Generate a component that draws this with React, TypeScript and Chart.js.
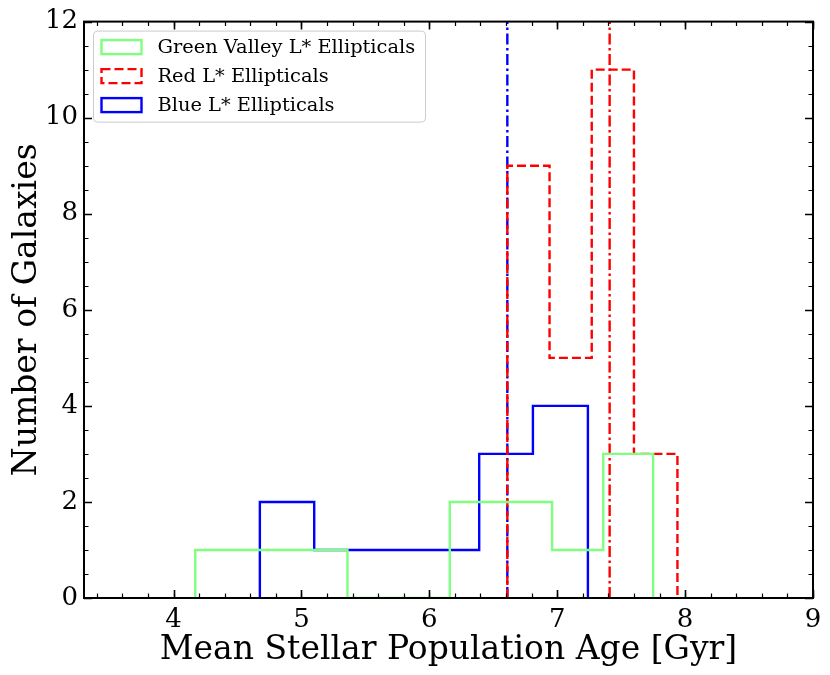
import React, { useEffect, useRef } from 'react';
import { Chart, registerables } from 'chart.js';

Chart.register(...registerables);

// ---- data ----
const greenEdges = [4.17, 4.57, 4.97, 5.36, 5.76, 6.16, 6.56, 6.96, 7.36, 7.75];
const greenCounts = [1, 1, 1, 0, 0, 2, 2, 1, 3];
const redEdges = [6.61, 6.94, 7.27, 7.6, 7.94];
const redCounts = [9, 5, 11, 3];
const blueEdges = [4.675, 5.1, 5.53, 5.96, 6.39, 6.81, 7.24];
const blueCounts = [2, 1, 1, 1, 3, 4];
const blueMean = 6.61;
const redMean = 7.41;
const xTickLabels = [4, 5, 6, 7, 8, 9];
const yTickLabels = [0, 2, 4, 6, 8, 10, 12];
const seriesNames = ['Green Valley L* Ellipticals', 'Red L* Ellipticals', 'Blue L* Ellipticals'];

const X_MIN = 3.3;
const X_MAX = 9;
const Y_MIN = 0;
const Y_MAX = 12;
const X_MINOR = 0.2;
const Y_MINOR = 0.5;

const FONT = "'DejaVu Serif', serif";
const GREEN = 'rgb(127,255,127)';
const RED = 'rgb(255,0,0)';
const BLUE = 'rgb(0,0,255)';
const LW = 2.4;

function stepPoints(edges: number[], counts: number[]) {
  const pts: { x: number; y: number }[] = [{ x: edges[0], y: 0 }];
  counts.forEach((c, i) => {
    pts.push({ x: edges[i], y: c });
    pts.push({ x: edges[i + 1], y: c });
  });
  pts.push({ x: edges[edges.length - 1], y: 0 });
  return pts;
}

function minorValues(min: number, max: number, step: number) {
  const out: number[] = [];
  const start = Math.ceil(min / step - 1e-9);
  for (let k = start; k * step <= max + 1e-9; k++) out.push(+(k * step).toFixed(6));
  return out;
}

const framePlugin = {
  id: 'frameTicks',
  afterDraw(chart: any) {
    const { ctx, chartArea } = chart;
    const { left, right, top, bottom } = chartArea;
    const xs = chart.scales.x;
    const ys = chart.scales.y;
    ctx.save();
    ctx.strokeStyle = '#000';
    // minor ticks
    ctx.lineWidth = 1.2;
    ctx.beginPath();
    minorValues(X_MIN, X_MAX, X_MINOR).forEach((v) => {
      const px = Math.round(xs.getPixelForValue(v)) + 0.5;
      ctx.moveTo(px, bottom);
      ctx.lineTo(px, bottom - 4.5);
      ctx.moveTo(px, top);
      ctx.lineTo(px, top + 4.5);
    });
    minorValues(Y_MIN, Y_MAX, Y_MINOR).forEach((v) => {
      const py = Math.round(ys.getPixelForValue(v)) + 0.5;
      ctx.moveTo(left, py);
      ctx.lineTo(left + 4.5, py);
      ctx.moveTo(right, py);
      ctx.lineTo(right - 4.5, py);
    });
    ctx.stroke();
    // major ticks
    ctx.lineWidth = 1.6;
    ctx.beginPath();
    xTickLabels.forEach((v) => {
      const px = Math.round(xs.getPixelForValue(v)) + 0.5;
      ctx.moveTo(px, bottom);
      ctx.lineTo(px, bottom - 8);
      ctx.moveTo(px, top);
      ctx.lineTo(px, top + 8);
    });
    yTickLabels.forEach((v) => {
      const py = Math.round(ys.getPixelForValue(v)) + 0.5;
      ctx.moveTo(left, py);
      ctx.lineTo(left + 8, py);
      ctx.moveTo(right, py);
      ctx.lineTo(right - 8, py);
    });
    ctx.stroke();
    // frame
    ctx.lineWidth = 2;
    ctx.strokeRect(left, top, right - left, bottom - top);

    // legend
    const lx = left + 9.5;
    const ly = top + 9.5;
    const lw = 332;
    const lh = 91;
    const r = 4;
    ctx.beginPath();
    ctx.moveTo(lx + r, ly);
    ctx.lineTo(lx + lw - r, ly);
    ctx.arcTo(lx + lw, ly, lx + lw, ly + r, r);
    ctx.lineTo(lx + lw, ly + lh - r);
    ctx.arcTo(lx + lw, ly + lh, lx + lw - r, ly + lh, r);
    ctx.lineTo(lx + r, ly + lh);
    ctx.arcTo(lx, ly + lh, lx, ly + lh - r, r);
    ctx.lineTo(lx, ly + r);
    ctx.arcTo(lx, ly, lx + r, ly, r);
    ctx.closePath();
    ctx.fillStyle = 'rgba(255,255,255,0.8)';
    ctx.fill();
    ctx.lineWidth = 1;
    ctx.strokeStyle = '#cccccc';
    ctx.stroke();

    const items = [
      { color: GREEN, dash: [] as number[] },
      { color: RED, dash: [9, 4] },
      { color: BLUE, dash: [] as number[] },
    ];
    items.forEach((it, i) => {
      const cy = ly + 16 + i * 29;
      ctx.save();
      ctx.setLineDash(it.dash);
      ctx.lineWidth = LW;
      ctx.strokeStyle = it.color;
      ctx.lineJoin = 'miter';
      ctx.strokeRect(lx + 8, cy - 7, 40, 14);
      ctx.restore();
      ctx.fillStyle = '#000';
      ctx.font = `19.4px ${FONT}`;
      ctx.textBaseline = 'middle';
      ctx.textAlign = 'left';
      ctx.fillText(seriesNames[i], lx + 64, cy + 1);
    });
    ctx.restore();
  },
};

export default function App() {
  const ref = useRef<HTMLCanvasElement | null>(null);
  useEffect(() => {
    if (!ref.current) return;
    const lineDefaults = {
      showLine: true,
      pointRadius: 0,
      pointHoverRadius: 0,
      fill: false,
      borderJoinStyle: 'miter' as const,
      borderCapStyle: 'butt' as const,
      tension: 0,
    };
    const chart = new Chart(ref.current, {
      type: 'scatter',
      data: {
        datasets: [
          { ...lineDefaults, label: seriesNames[0], data: stepPoints(greenEdges, greenCounts), borderColor: GREEN, borderWidth: LW },
          { ...lineDefaults, label: seriesNames[1], data: stepPoints(redEdges, redCounts), borderColor: RED, borderWidth: LW, borderDash: [9, 4] },
          { ...lineDefaults, label: seriesNames[2], data: stepPoints(blueEdges, blueCounts), borderColor: BLUE, borderWidth: LW },
          { ...lineDefaults, label: 'blue mean', data: [{ x: blueMean, y: Y_MIN }, { x: blueMean, y: Y_MAX }], borderColor: BLUE, borderWidth: LW, borderDash: [11, 3.5, 2.5, 3.5] },
          { ...lineDefaults, label: 'red mean', data: [{ x: redMean, y: Y_MIN }, { x: redMean, y: Y_MAX }], borderColor: RED, borderWidth: LW, borderDash: [11, 3.5, 2.5, 3.5] },
        ],
      },
      options: {
        responsive: false,
        animation: false,
        layout: { padding: { top: 20, right: 17, left: 0, bottom: 0 } },
        plugins: {
          legend: { display: false },
          tooltip: { enabled: false },
        },
        scales: {
          x: {
            type: 'linear',
            min: X_MIN,
            max: X_MAX,
            afterBuildTicks: (s: any) => {
              s.ticks = xTickLabels.map((v) => ({ value: v }));
            },
            afterFit: (s: any) => {
              s.height = 77;
            },
            grid: { display: false, drawTicks: false },
            border: { display: false },
            ticks: { color: '#000', font: { family: FONT, size: 26 }, padding: 7, maxRotation: 0, autoSkip: false },
            title: { display: true, text: 'Mean Stellar Population Age [Gyr]', color: '#000', font: { family: FONT, size: 33 }, padding: { top: 0, bottom: 5 } },
          },
          y: {
            type: 'linear',
            min: Y_MIN,
            max: Y_MAX,
            afterBuildTicks: (s: any) => {
              s.ticks = yTickLabels.map((v) => ({ value: v }));
            },
            afterFit: (s: any) => {
              s.width = 84;
            },
            grid: { display: false, drawTicks: false },
            border: { display: false },
            ticks: { color: '#000', font: { family: FONT, size: 26 }, padding: 6, autoSkip: false },
            title: { display: true, text: 'Number of Galaxies', color: '#000', font: { family: FONT, size: 33 }, padding: { top: 8, bottom: 0 } },
          },
        },
      },
      plugins: [framePlugin],
    });
    return () => chart.destroy();
  }, []);
  return (
    <div style={{ position: 'absolute', left: 0, top: 0, width: 830, height: 675, background: '#fff' }}>
      <canvas ref={ref} width={830} height={675} />
    </div>
  );
}
